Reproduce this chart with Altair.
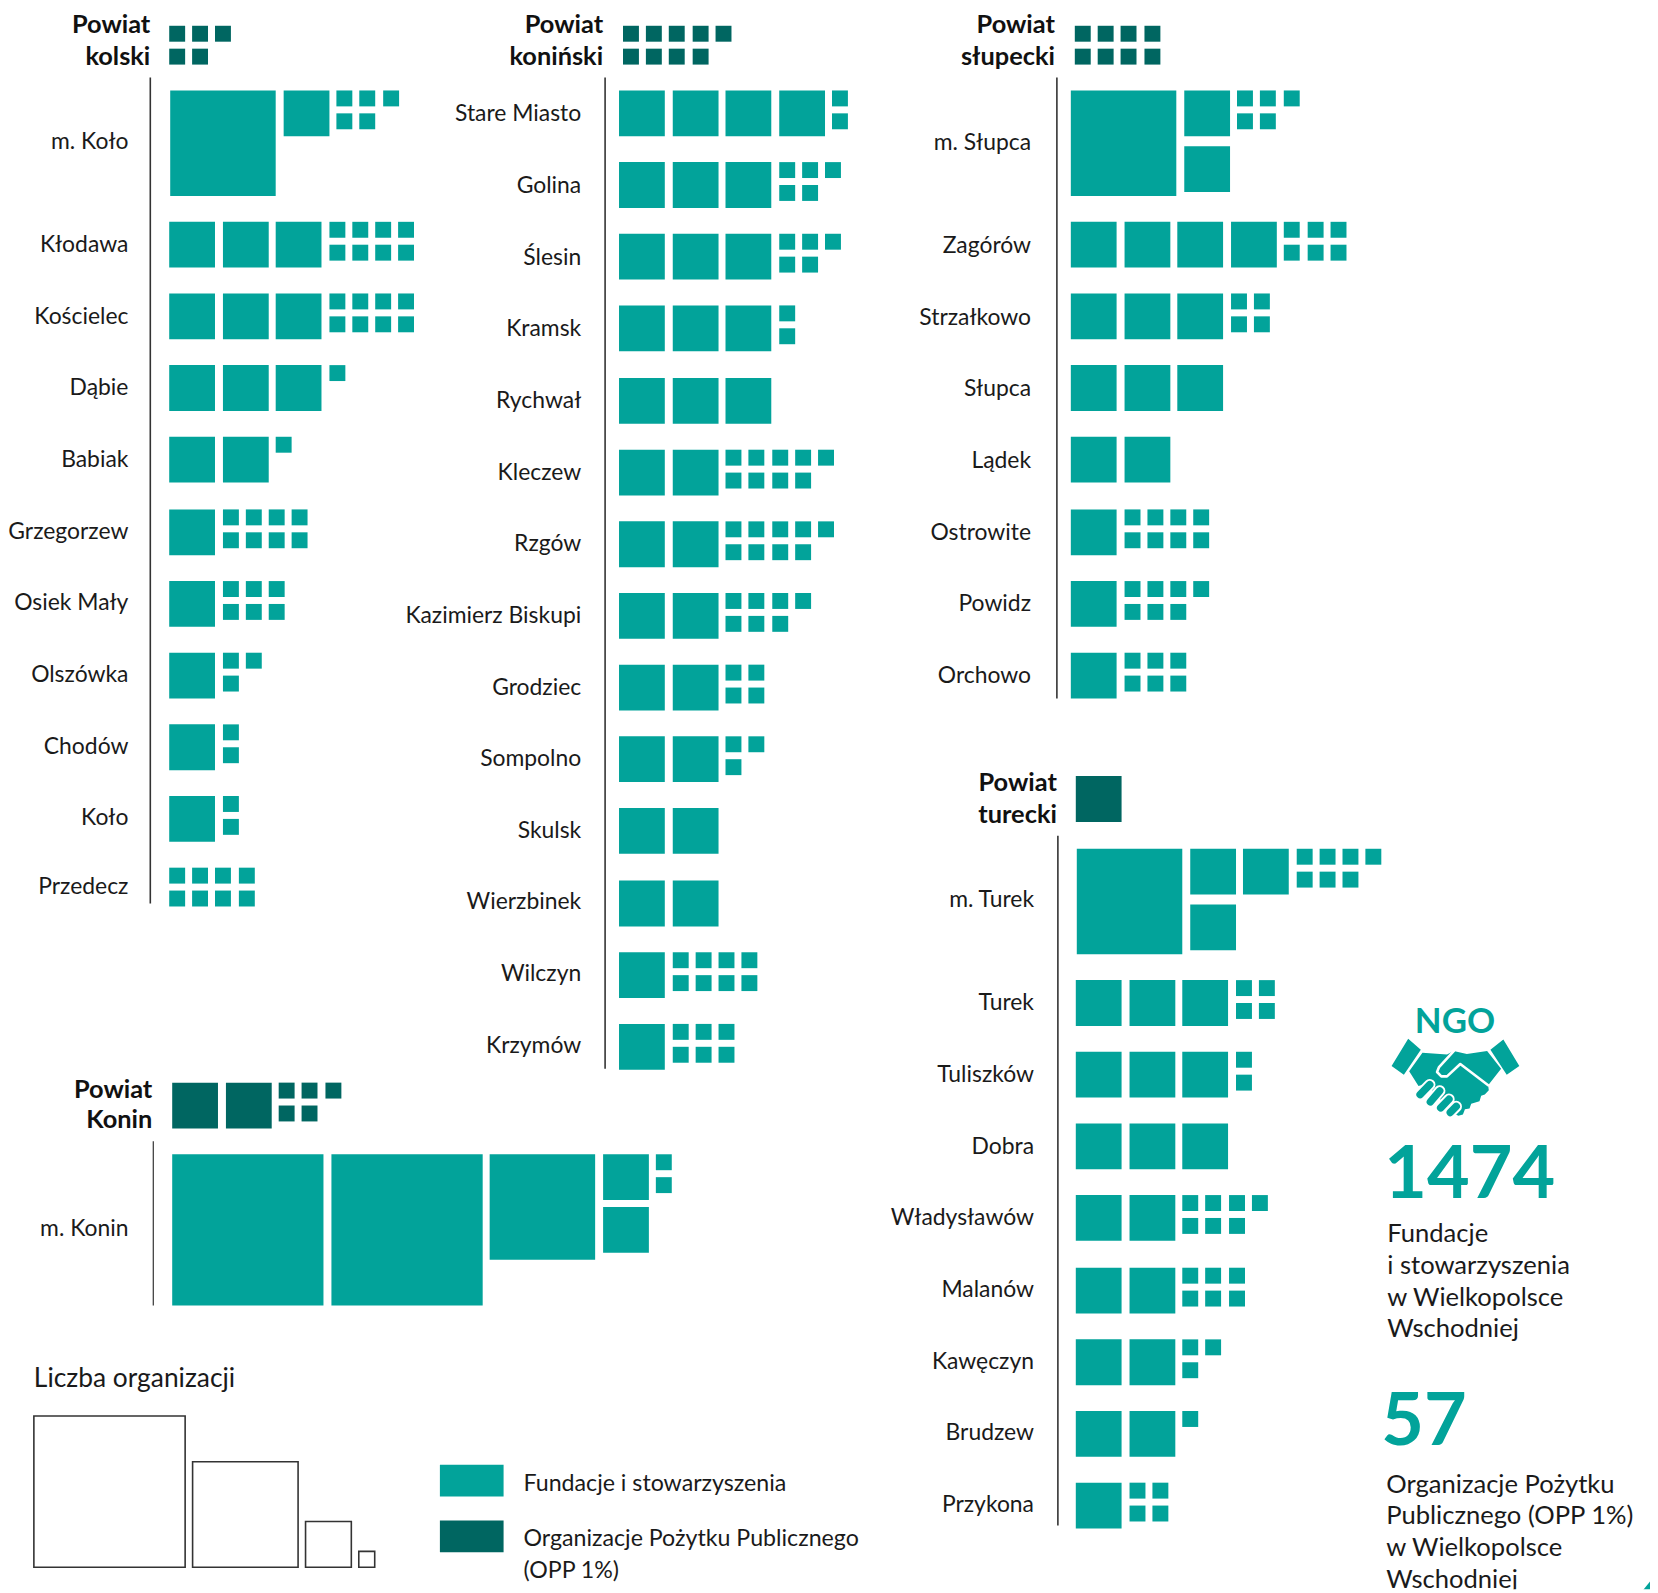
import altair as alt
import pandas as pd

TEAL = "#02A39A"
DARK = "#006661"
INK = "#1a1a1a"
FONT = "Lato"

# ---------- values: organisations per gmina, OPP per powiat ----------
kolski_names = ["m. Koło", "Kłodawa", "Kościelec", "Dąbie", "Babiak", "Grzegorzew",
                "Osiek Mały", "Olszówka", "Chodów", "Koło", "Przedecz"]
kolski_vals = [65, 38, 38, 31, 21, 18, 16, 13, 12, 12, 8]
koninski_names = ["Stare Miasto", "Golina", "Ślesin", "Kramsk", "Rychwał", "Kleczew", "Rzgów",
                  "Kazimierz Biskupi", "Grodziec", "Sompolno", "Skulsk", "Wierzbinek",
                  "Wilczyn", "Krzymów"]
koninski_vals = [42, 35, 35, 32, 30, 29, 29, 27, 24, 23, 20, 20, 18, 16]
slupecki_names = ["m. Słupca", "Zagórów", "Strzałkowo", "Słupca", "Lądek", "Ostrowite",
                  "Powidz", "Orchowo"]
slupecki_vals = [75, 46, 34, 30, 20, 18, 17, 16]
turecki_names = ["m. Turek", "Turek", "Tuliszków", "Dobra", "Władysławów", "Malanów",
                 "Kawęczyn", "Brudzew", "Przykona"]
turecki_vals = [87, 34, 32, 30, 27, 26, 23, 21, 14]
konin_names = ["m. Konin"]
konin_vals = [272]
opp_vals = {"kolski": 5, "koniński": 9, "słupecki": 8, "turecki": 10, "Konin": 25}
legend_units = [100, 50, 10, 1]

SIDE = {100: 152, 50: 106, 10: 46, 1: 16}
PITCH1 = 23.2
GAP = 7.6
ROW_PITCH = 72.15
LABEL_PITCH = 72


def decompose(v):
    out = {}
    for u in (100, 50, 10, 1):
        out[u], v = v // u, v % u
    return out


def place(v, x0, y0, color, stack=10):
    """Lay one value out as squares, biggest first; returns squares and row height."""
    parts = decompose(v)
    sq = []
    x = x0
    big = parts[100] + parts[50] > 0
    h = 0
    for u in (100, 50):
        for _ in range(parts[u]):
            sq.append((x, y0, u))
            x += SIDE[u] + GAP
            h = max(h, SIDE[u])
    n = parts[10]
    if big:
        cols = (n + 1) // 2
        for i in range(n):
            sq.append((x + (i // 2) * (46 + GAP), y0 + (i % 2) * (46 + stack), 10))
        x += cols * (46 + GAP)
    else:
        for i in range(n):
            sq.append((x + i * (46 + GAP), y0, 10))
        x += n * (46 + GAP)
    if n:
        h = max(h, 46)
    n = parts[1]
    for i in range(n):
        sq.append((x + (i // 2) * PITCH1, y0 + (i % 2) * 23, 1))
    if n:
        h = max(h, 39)
    return [dict(x=round(a), x2=round(a) + SIDE[u], y=round(b), y2=round(b) + SIDE[u],
                 color=color) for a, b, u in sq], h


squares = []
stems = []
labels = []
heads = []

# line1, line2, names, values, row x, first row y, stem x, stem end, label right edge,
# label shift, first row x shift, opp value, opp x, opp y, head right edge, head baseline
sections = [
    ("Powiat", "kolski", kolski_names, kolski_vals, 170, 87, 151, 904, 129, 0, 1,
     opp_vals["kolski"], 170, 22, 151, 29),
    ("Powiat", "koniński", koninski_names, koninski_vals, 622, 87, 608, 1070, 584, 0.5, 0,
     opp_vals["koniński"], 626, 22, 606, 29),
    ("Powiat", "słupecki", slupecki_names, slupecki_vals, 1076, 87, 1062, 698, 1036, 1, 0,
     opp_vals["słupecki"], 1080, 22, 1060, 29),
    ("Powiat", "turecki", turecki_names, turecki_vals, 1081, 849, 1063, 1529, 1039, 0, 1,
     opp_vals["turecki"], 1081, 776, 1062, 791),
    ("Powiat", "Konin", konin_names, konin_vals, 173, 1156, 154, 1308, 129, 0, 0,
     opp_vals["Konin"], 173, 1084, 153, 1099),
]
for l1, l2, names, vals, x0, y0, sx, send, lx, lshift, fshift, opp, hx, hy, htx, hty in sections:
    y = y0
    ly = y0
    for i, (name, v) in enumerate(zip(names, vals)):
        s, h = place(v, x0 + (fshift if i == 0 else 0), y, TEAL, stack=7 if v > 200 else 10)
        squares += s
        off = 6 if h > 46 else 7.5
        labels.append(dict(x=lx, y=ly + h / 2 + off + lshift, text=name))
        y = y + h + 26 if h > 46 else y + ROW_PITCH
        ly = ly + h + 26 if h > 46 else ly + LABEL_PITCH
    stems.append(dict(x=sx, y=y0 - 13, y2=send, w=1.2 if l2 == "Konin" else 1.6))
    s, _ = place(opp, hx, hy, DARK)
    squares += s
    heads.append(dict(x=htx, y=hty, text=l1))
    heads.append(dict(x=htx, y=hty + 32 - (1 if l2 == "Konin" else 0), text=l2))

rects = pd.DataFrame(squares)
stems = pd.DataFrame(stems)
labels = pd.DataFrame(labels)
heads = pd.DataFrame(heads)

# size legend: bottom-aligned outlined squares
lx = 34
size_rows = []
for u in legend_units:
    size_rows.append(dict(x=lx, x2=lx + SIDE[u], y=1571 - SIDE[u], y2=1571))
    lx += SIDE[u] + 7.5
size_leg = pd.DataFrame(size_rows)

key = pd.DataFrame([
    dict(x=442, x2=506, y=1468, y2=1500, color=TEAL),
    dict(x=442, x2=506, y=1524, y2=1556, color=DARK),
])
title_text = pd.DataFrame([dict(x=34, y=1390, text="Liczba organizacji")])
key_text = pd.DataFrame([
    dict(x=526, y=1494, text="Fundacje i stowarzyszenia"),
    dict(x=526, y=1550, text="Organizacje Pożytku Publicznego"),
    dict(x=526, y=1582, text="(OPP 1%)"),
])
side_text = pd.DataFrame([
    dict(x=1394, y=1244, text="Fundacje"),
    dict(x=1394, y=1276, text="i stowarzyszenia"),
    dict(x=1394, y=1308, text="w Wielkopolsce"),
    dict(x=1394, y=1340, text="Wschodniej"),
    dict(x=1393, y=1496, text="Organizacje Pożytku"),
    dict(x=1393, y=1528, text="Publicznego (OPP 1%)"),
    dict(x=1393, y=1560, text="w Wielkopolsce"),
    dict(x=1393, y=1592, text="Wschodniej"),
])
big_nums = pd.DataFrame([
    dict(x=1391, y=1200, text="1474"),
    dict(x=1388, y=1448, text="57"),
])
ngo = pd.DataFrame([dict(x=1462, y=1034, text="NGO")])

X = alt.Scale(domain=[8, 1658], nice=False, zero=False)
Y = alt.Scale(domain=[1593, 8], nice=False, zero=False)


def xe(f="x"):
    return alt.X(f"{f}:Q", scale=X, axis=None)


def ye(f="y"):
    return alt.Y(f"{f}:Q", scale=Y, axis=None)


rect_layer = alt.Chart(rects).mark_rect().encode(
    x=xe(), x2="x2:Q", y=ye(), y2="y2:Q", color=alt.Color("color:N", scale=None, legend=None))
key_layer = alt.Chart(key).mark_rect().encode(
    x=xe(), x2="x2:Q", y=ye(), y2="y2:Q", color=alt.Color("color:N", scale=None, legend=None))
size_layer = alt.Chart(size_leg).mark_rect(fill="white", stroke="#333333", strokeWidth=1.6).encode(
    x=xe(), x2="x2:Q", y=ye(), y2="y2:Q")
stem_layer = alt.Chart(stems).mark_rule(color="#333333").encode(
    x=xe(), y=ye(), y2="y2:Q", strokeWidth=alt.StrokeWidth("w:Q", scale=None, legend=None))


def txt(df, size, bold=False, align="left", color=INK, clip=False):
    return alt.Chart(df).mark_text(font=FONT, fontSize=size, fontWeight="bold" if bold else "normal",
                                   align=align, baseline="alphabetic", color=color, clip=clip).encode(
        x=xe(), y=ye(), text="text:N")


# --- handshake icon, path in its own box, centred on (248,265) half-size 195
def nx(p):
    out = []
    for tok in p.split():
        if tok[0].isalpha():
            cmd, rest = tok[0], tok[1:]
        else:
            cmd, rest = "", tok
        if rest:
            a, b = rest.split(",")
            out.append(f"{cmd}{(float(a) - 248) / 195:.3f},{(float(b) - 265) / 195:.3f}")
        else:
            out.append(cmd)
    return "".join(out)


icon_body = nx("M105,150 L143,183 L92,258 L55,232 Z "
               "M353,183 L392,152 L440,232 L402,258 Z "
               "M148,192 L222,197 L242,187 L282,196 L343,187 L385,240 L346,290 "
               "L348,305 L336,318 L325,322 L320,338 L305,343 L295,346 L290,360 L276,362 "
               "L270,378 L256,382 L235,370 L160,285 L136,292 L108,248 Z")
icon_thumb = nx("M243,186 L198,235 L192,250 L205,263 L222,263 L262,226 L346,290")
icon_fingers = nx("M141,318 L170,288 M172,340 L200,307 M203,358 L228,332 M232,372 L250,354")
ICON_SIZE = (2 * 195 / 3) ** 2
pos = pd.DataFrame([dict(x=1380 + 248 / 3, y=990 + 265 / 3)])


def icon(path, filled, stroke=None, w=1):
    kw = dict(shape=path, size=ICON_SIZE, opacity=1)
    if filled:
        kw.update(filled=True, fill=TEAL, strokeWidth=0)
    else:
        kw.update(filled=False, stroke=stroke, strokeWidth=w, strokeCap="round", strokeJoin="round")
    return alt.Chart(pos).mark_point(**kw).encode(x=xe(), y=ye())


corner = pd.DataFrame([dict(x=1656, y=1589)])
corner_layer = alt.Chart(corner).mark_point(
    shape="M-1,1L0.6,-1L1,-1L1,1Z", size=100, filled=True, fill=TEAL, strokeWidth=0, opacity=1, clip=True
).encode(x=xe(), y=ye())

chart = alt.layer(
    rect_layer, key_layer, size_layer, stem_layer,
    txt(labels, 23, align="right"),
    txt(heads, 25.5, bold=True, align="right", color="#111111"),
    txt(title_text, 26.5),
    txt(key_text, 23.3),
    txt(side_text, 25.7, clip=True),
    txt(big_nums, 74, bold=True, color=TEAL),
    txt(ngo, 35, bold=True, align="center", color=TEAL),
    icon(icon_body, True),
    icon(icon_thumb, False, "white", 2.6),
    icon(icon_fingers, False, "white", 11.5),
    icon(icon_fingers, False, TEAL, 7.5),
    corner_layer,
).properties(
    width=1650, height=1585, padding=0,
    autosize=alt.AutoSizeParams(type="none", contains="content"),
).configure_view(strokeWidth=0)

chart.save("out.html", embed_options={"renderer": "svg", "actions": False})
